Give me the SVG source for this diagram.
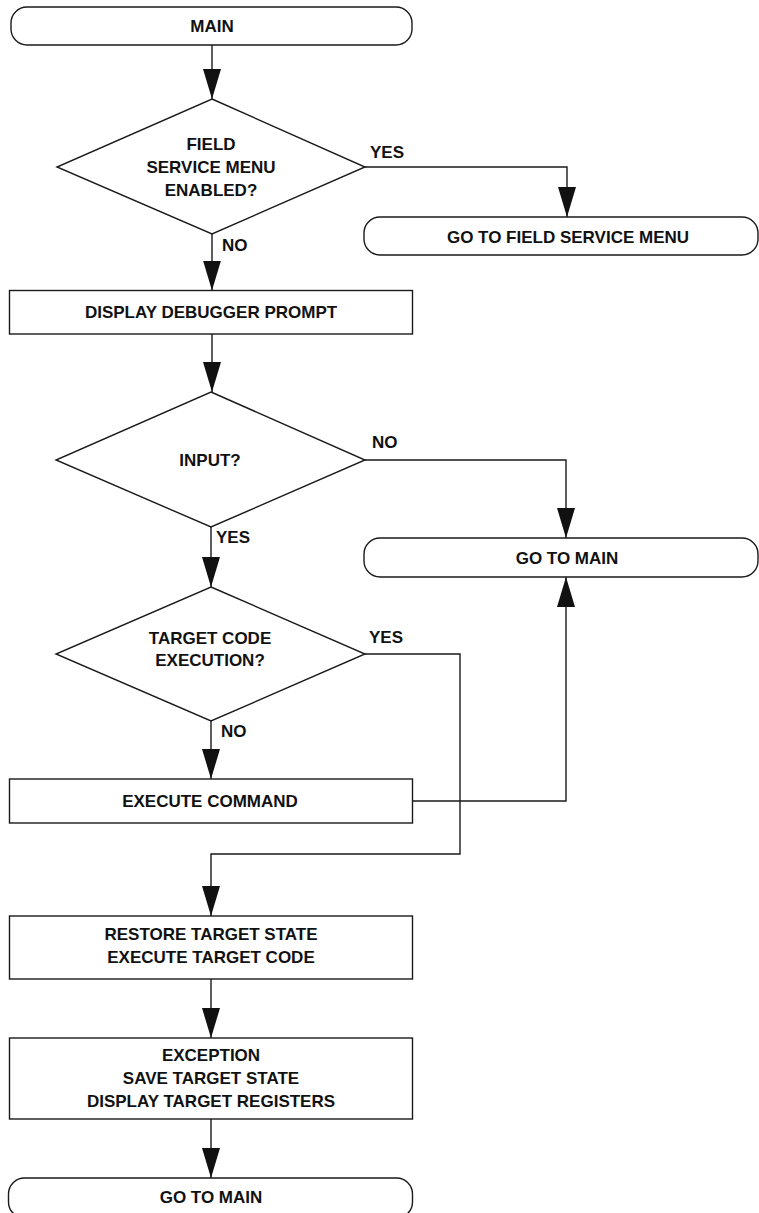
<svg xmlns="http://www.w3.org/2000/svg" width="759" height="1213" viewBox="0 0 759 1213">
<style>
.s{fill:#fff;stroke:#1a1a1a;stroke-width:1.4}
.c{fill:none;stroke:#1a1a1a;stroke-width:1.4}
text{font-family:"Liberation Sans",Arial,sans-serif;font-weight:bold;font-size:17px;fill:#111}
.m{text-anchor:middle}
</style>
<defs>
<marker id="ah" markerUnits="userSpaceOnUse" viewBox="0 0 30 18" refX="30" refY="9" markerWidth="30" markerHeight="18" orient="auto">
<path d="M0,0 L30,9 L0,18 z" fill="#111"/>
</marker>
</defs>
<rect width="759" height="1213" fill="#fff"/>
<g id="connectors">
<path class="c" d="M212,45 V99" marker-end="url(#ah)"/>
<path class="c" d="M365,167 H567 V217" marker-end="url(#ah)"/>
<path class="c" d="M212,234 V290.5" marker-end="url(#ah)"/>
<path class="c" d="M212,334 V392" marker-end="url(#ah)"/>
<path class="c" d="M365,460 H566 V538" marker-end="url(#ah)"/>
<path class="c" d="M211,527 V587" marker-end="url(#ah)"/>
<path class="c" d="M211,721 V779" marker-end="url(#ah)"/>
<path class="c" d="M365,654 H460 V854 H211 V916" marker-end="url(#ah)"/>
<path class="c" d="M412.5,801 H566 V577" marker-end="url(#ah)"/>
<path class="c" d="M211,979 V1038" marker-end="url(#ah)"/>
<path class="c" d="M211,1119 V1178" marker-end="url(#ah)"/>
<text x="370" y="158">YES</text>
<text x="222" y="251">NO</text>
<text x="372" y="448">NO</text>
<text x="216" y="543">YES</text>
<text x="369" y="643">YES</text>
<text x="221" y="737">NO</text>
</g>
<g id="main">
<rect class="s" x="11" y="7" width="401" height="38" rx="16" ry="16"/>
<text class="m" x="212" y="32">MAIN</text>
</g>
<g id="field-service-enabled">
<polygon class="s" points="212,99 365,167 212,234 57,167"/>
<text class="m" x="211" y="150">FIELD</text>
<text class="m" x="211" y="173">SERVICE MENU</text>
<text class="m" x="211" y="196">ENABLED?</text>
</g>
<g id="goto-field-service">
<rect class="s" x="364" y="217" width="394" height="38" rx="16" ry="16"/>
<text class="m" x="568" y="243">GO TO FIELD SERVICE MENU</text>
</g>
<g id="display-prompt">
<rect class="s" x="9.5" y="290.5" width="403" height="43.5"/>
<text class="m" x="211" y="318">DISPLAY DEBUGGER PROMPT</text>
</g>
<g id="input">
<polygon class="s" points="211,392 365,460 211,527 56,460"/>
<text class="m" x="210" y="466">INPUT?</text>
</g>
<g id="goto-main-1">
<rect class="s" x="364" y="538" width="394" height="39" rx="16" ry="16"/>
<text class="m" x="567" y="564">GO TO MAIN</text>
</g>
<g id="target-exec">
<polygon class="s" points="211,587 365,654 211,721 56,654"/>
<text class="m" x="210" y="644">TARGET CODE</text>
<text class="m" x="210" y="666">EXECUTION?</text>
</g>
<g id="execute-command">
<rect class="s" x="9.5" y="779" width="403" height="44"/>
<text class="m" x="210" y="807">EXECUTE COMMAND</text>
</g>
<g id="restore">
<rect class="s" x="9.5" y="916" width="403" height="63"/>
<text class="m" x="211" y="940">RESTORE TARGET STATE</text>
<text class="m" x="211" y="963">EXECUTE TARGET CODE</text>
</g>
<g id="exception">
<rect class="s" x="9.5" y="1038" width="403" height="81"/>
<text class="m" x="211" y="1061">EXCEPTION</text>
<text class="m" x="211" y="1083.5">SAVE TARGET STATE</text>
<text class="m" x="211" y="1106.5">DISPLAY TARGET REGISTERS</text>
</g>
<g id="goto-main-2">
<rect class="s" x="8.5" y="1178" width="404" height="40" rx="16" ry="16"/>
<text class="m" x="211" y="1203">GO TO MAIN</text>
</g>
</svg>
